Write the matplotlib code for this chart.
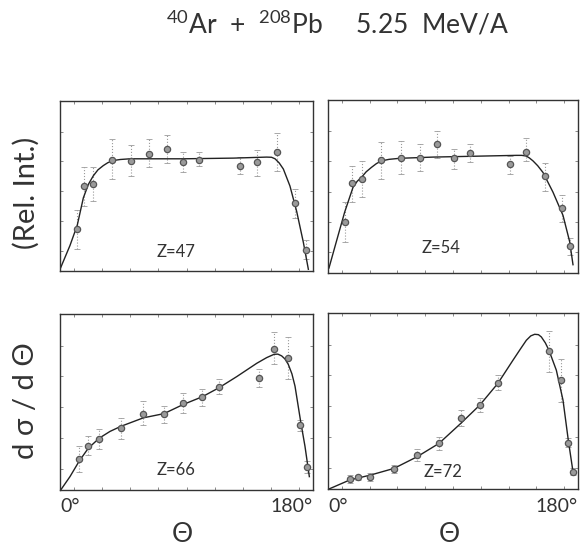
import numpy as np
import matplotlib
matplotlib.use("Agg")
import matplotlib.pyplot as plt

# angles in degrees, cross sections in relative units (0..1 of panel height)
# --- Z=47
th47 = [12.3, 17.1, 23.7, 37.2, 50.5, 63.3, 75.9, 87.7, 99.1, 128.1, 139.9, 154.2, 167.2, 174.8]
y47 = [0.25, 0.50, 0.514, 0.654, 0.65, 0.69, 0.72, 0.644, 0.654, 0.62, 0.64, 0.70, 0.40, 0.126]
lo47 = [0.13, 0.38, 0.41, 0.54, 0.56, 0.61, 0.634, 0.58, 0.62, 0.57, 0.56, 0.59, 0.31, 0.07]
hi47 = [0.36, 0.61, 0.61, 0.774, 0.74, 0.774, 0.80, 0.70, 0.70, 0.67, 0.71, 0.81, 0.48, 0.18]
cth47 = [0.5, 7.1, 12.3, 16.6, 20.2, 23.7, 27.0, 30.8, 34.0, 37.9, 43.0, 49.8, 87.7, 123.3, 147, 150.5, 153, 156.0, 158.9, 163.6, 168.4, 173.1, 176.7]
cy47 = [0.02, 0.15, 0.27, 0.43, 0.51, 0.56, 0.595, 0.62, 0.637, 0.65, 0.656, 0.66, 0.66, 0.664, 0.67, 0.669, 0.66, 0.635, 0.60, 0.50, 0.35, 0.17, 0.01]

# --- Z=54
th54 = [12.0, 17.5, 24.5, 38.4, 52.8, 66.0, 78.7, 90.7, 102.5, 131.3, 142.8, 156.2, 168.5, 174.5]
y54 = [0.295, 0.518, 0.543, 0.651, 0.667, 0.667, 0.743, 0.663, 0.695, 0.629, 0.701, 0.558, 0.375, 0.154]
lo54 = [0.181, 0.41, 0.438, 0.543, 0.571, 0.59, 0.667, 0.60, 0.642, 0.571, 0.648, 0.476, 0.295, 0.105]
hi54 = [0.41, 0.62, 0.648, 0.76, 0.762, 0.743, 0.819, 0.718, 0.748, 0.676, 0.781, 0.638, 0.448, 0.20]
cth54 = [0.7, 6.0, 12.0, 18.0, 21.0, 24.0, 27.5, 31.2, 34.8, 38.4, 44.0, 51.6, 75.6, 111.6, 135.6, 139.5, 142.8, 145.0, 147.6, 151.0, 154.8, 162, 169.2, 174, 176.4]
cy54 = [0.029, 0.181, 0.352, 0.495, 0.53, 0.552, 0.585, 0.61, 0.632, 0.648, 0.657, 0.663, 0.670, 0.676, 0.68, 0.68, 0.676, 0.665, 0.648, 0.62, 0.581, 0.467, 0.333, 0.181, 0.048]

# --- Z=66
th66 = [13.8, 20.2, 28.0, 43.4, 59.3, 74.0, 87.7, 101.3, 113.1, 141.8, 152.3, 162.4, 170.8, 175.7]
y66 = [0.175, 0.251, 0.291, 0.352, 0.434, 0.430, 0.495, 0.530, 0.585, 0.638, 0.80, 0.749, 0.368, 0.128]
lo66 = [0.105, 0.20, 0.232, 0.290, 0.371, 0.381, 0.438, 0.476, 0.543, 0.587, 0.714, 0.632, 0.333, 0.095]
hi66 = [0.248, 0.305, 0.349, 0.411, 0.503, 0.480, 0.552, 0.575, 0.632, 0.686, 0.895, 0.867, 0.40, 0.162]
cth66 = [0.5, 7.1, 13.8, 20.2, 28.0, 35.6, 43.4, 59.3, 74.0, 87.7, 101.3, 113.1, 125.7, 140.0, 147.0, 152.3, 155.0, 157.7, 160.0, 162.4, 165.0, 167.2, 171.2, 174.3, 177.4]
cy66 = [0.0, 0.076, 0.166, 0.238, 0.295, 0.333, 0.362, 0.410, 0.434, 0.486, 0.530, 0.581, 0.644, 0.72, 0.752, 0.771, 0.772, 0.762, 0.745, 0.714, 0.66, 0.590, 0.390, 0.248, 0.076]

# --- Z=72
th72 = [15.6, 21.6, 30.5, 47.5, 64.1, 79.9, 95.5, 109.2, 122.2, 159.1, 167.5, 173.0, 176.4]
y72 = [0.057, 0.066, 0.070, 0.113, 0.193, 0.259, 0.401, 0.476, 0.602, 0.782, 0.618, 0.263, 0.098]
lo72 = [0.036, 0.05, 0.047, 0.093, 0.160, 0.221, 0.357, 0.437, 0.560, 0.664, 0.495, 0.240, 0.079]
hi72 = [0.079, 0.08, 0.089, 0.136, 0.225, 0.295, 0.447, 0.518, 0.645, 0.90, 0.74, 0.287, 0.117]
cth72 = [0.7, 15.6, 30.5, 47.5, 64.1, 79.9, 95.5, 109.2, 122.2, 133.2, 138.5, 142.8, 146.0, 148.8, 151.5, 153.6, 156.5, 159.1, 164.4, 169.2, 173.0, 176.4]
cy72 = [0.0, 0.051, 0.079, 0.117, 0.183, 0.259, 0.372, 0.476, 0.599, 0.732, 0.795, 0.845, 0.87, 0.879, 0.877, 0.864, 0.83, 0.788, 0.675, 0.505, 0.278, 0.098]

panels = [
    ("Z=47", th47, y47, lo47, hi47, cth47, cy47),
    ("Z=54", th54, y54, lo54, hi54, cth54, cy54),
    ("Z=66", th66, y66, lo66, hi66, cth66, cy66),
    ("Z=72", th72, y72, lo72, hi72, cth72, cy72),
]
# where the Z label sits (axes fraction, baseline)
label_pos = [(0.38, 0.085), (0.376, 0.115), (0.383, 0.085), (0.384, 0.07)]

W, H = 588, 549
fig = plt.figure(figsize=(W / 100, H / 100), dpi=100)
plt.rcParams['font.family'] = ['Lato', 'DejaVu Sans']
plt.rcParams['mathtext.fontset'] = 'custom'
plt.rcParams['mathtext.rm'] = 'Lato'
plt.rcParams['mathtext.default'] = 'rm'
txt = "#333333"

# axes boxes in pixels: (left, top, right, bottom)
boxes = [(60, 101, 313, 271), (328, 100, 578, 273), (60, 314, 313, 490), (328, 313, 578, 489)]

for i, (name, th, y, lo, hi, cth, cy) in enumerate(panels):
    l, t, r, b = boxes[i]
    ax = fig.add_axes([l / W, 1 - b / H, (r - l) / W, (b - t) / H])
    y = np.array(y); lo = np.array(lo); hi = np.array(hi)
    eb = ax.errorbar(th, y, yerr=[y - lo, hi - y], fmt="none", ecolor="#9a9a9a",
                     elinewidth=0.8, capsize=2, capthick=0.6)
    eb[2][0].set_linestyle(":")
    ax.plot(cth, cy, color="#222222", lw=1.0)
    ax.plot(th, y, "o", ms=4.5, mfc="#9a9a9a", mec="#555555", mew=0.9)
    ax.set_xlim(0, 180)
    ax.set_ylim(0, 1)
    ax.set_xticks(np.arange(10, 180, 20))
    ax.set_yticks(np.linspace(0.12, 0.82, 5))
    ax.tick_params(direction="in", length=2, width=0.6, color="#777777",
                   top=True, right=True, labelbottom=False, labelleft=False)
    for s in ax.spines.values():
        s.set_linewidth(1.0)
        s.set_color("#333333")
    ax.text(label_pos[i][0], label_pos[i][1], name, transform=ax.transAxes,
            ha="left", va="baseline", fontsize=12, color=txt)

# x tick labels under bottom panels
for l, r in [(60, 313), (328, 578)]:
    fig.text(l / W, 1 - 506 / H, "0°", ha="left", va="center", fontsize=14, color=txt)
    fig.text(r / W, 1 - 506 / H, "180°", ha="right", va="center", fontsize=14, color=txt)
    fig.text((l + r) / 2 / W - 4 / W, 1 - 534 / H, "Θ", ha="center", va="center", fontsize=19, color=txt)

fig.text(26 / W, 1 - 193 / H, "(Rel. Int.)", rotation=90, ha="center", va="center",
         fontsize=21, color=txt)
fig.text(26 / W, 1 - 401 / H, "d σ / d Θ", rotation=90, ha="center", va="center",
         fontsize=21, color=txt)
fig.text(338 / W, 1 - 24 / H, r"$^{40}$Ar  +  $^{208}$Pb     5.25  MeV/A", ha="center", va="center",
         fontsize=19, color=txt)

fig.savefig("out.png", dpi=100)
